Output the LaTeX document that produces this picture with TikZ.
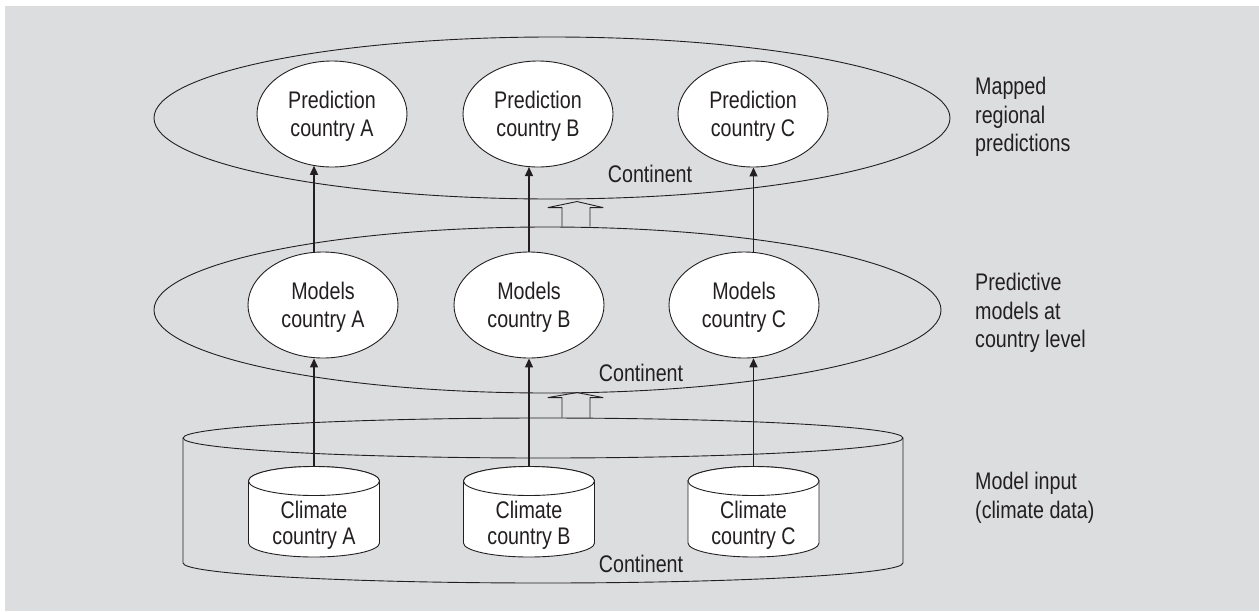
\documentclass[tikz,border=0pt]{standalone}
\usepackage{fontspec}
\setmainfont{Liberation Sans}[FakeStretch=0.82]
\usetikzlibrary{shapes.geometric,arrows.meta,calc}
\definecolor{bg}{RGB}{220,221,223}
\definecolor{ink}{RGB}{35,31,32}
\newcommand\twol[2]{\rule{0pt}{21.9pt}#1\\#2}
\begin{document}
\begin{tikzpicture}[x=1pt,y=1pt,line join=round,
  every node/.style={text=ink,font=\fontsize{24}{28}\selectfont},
  big/.style={draw=ink,line width=0.9pt,ellipse,inner sep=0pt},
  oval/.style={draw=ink,line width=0.9pt,ellipse,fill=white,minimum width=150pt,minimum height=106pt,inner sep=0pt,align=center},
  arr/.style={draw=ink,line width=1.3pt,-{Triangle[length=9pt,width=8pt]}},
  hollow/.style={draw=ink,line width=0.9pt},
  cyl/.style={draw=ink,line width=0.9pt,fill=white},
  side/.style={align=left,anchor=west,inner sep=0pt,font=\fontsize{24}{28.5}\selectfont},
  cont/.style={anchor=base,inner sep=0pt}]
\useasboundingbox (0,0) rectangle (1259,-611);
\fill[bg] (5,-6) rectangle (1259,-611);

% continent levels
\node[big,minimum width=796pt,minimum height=162pt] (topE) at (552,-118) {};
\node[big,minimum width=787pt,minimum height=166pt] (midE) at (547.5,-310) {};
\draw[ink,line width=0.9pt] (183,-438) -- (183,-563)
  arc[start angle=180,end angle=360,x radius=360pt,y radius=20pt] -- (903,-438);
\node[big,minimum width=720pt,minimum height=40pt] (baseE) at (543,-438) {};

% hollow arrows
\draw[hollow] ($(midE.north)+(14.5,0)$) -- ++(0,19) -- ++(-14,0) -- ++(29,6) -- ++(26,-6) -- ++(-13,0) -- ++(0,-19);
\draw[hollow] ($(baseE.north)+(19,0)$) -- ++(0,20) -- ++(-14,0) -- ++(29,5) -- ++(26,-5) -- ++(-13,0) -- ++(0,-20);

% climate cylinders
\newcommand\climcyl[3]{%
  \filldraw[cyl] (#1-65.5,-481) -- (#1-65.5,-543)
    arc[start angle=180,end angle=360,x radius=65.5pt,y radius=14pt]
    -- (#1+65.5,-481)
    arc[start angle=0,end angle=180,x radius=65.5pt,y radius=14.5pt] -- cycle;
  \draw[cyl] (#1,-481) ellipse[x radius=65.5pt,y radius=14.5pt];
  \node[align=center,font=\fontsize{24}{26}\selectfont] (#2) at (#1,-523) {\twol{Climate}{#3}};
  \coordinate (#2top) at (#1,-466);}
\climcyl{314}{climA}{country A}
\climcyl{529}{climB}{country B}
\climcyl{753.5}{climC}{country C}

% model ovals
\node[oval] (modA) at (323,-305) {\twol{Models}{country A}};
\node[oval] (modB) at (529,-305) {\twol{Models}{country B}};
\node[oval] (modC) at (744,-305) {\twol{Models}{country C}};

% prediction ovals
\node[oval] (predA) at (332,-114) {\twol{Prediction}{country A}};
\node[oval] (predB) at (538,-114) {\twol{Prediction}{country B}};
\node[oval] (predC) at (753,-114) {\twol{Prediction}{country C}};

% arrows
\draw[arr] (climAtop) -- (climAtop |- modA.south);
\draw[arr] (climBtop) -- (climBtop |- modB.south);
\draw[arr] (climCtop) -- ($(climCtop |- modC.south)+(0,0.2)$);
\draw[arr] ($(modA.north -| climAtop)+(0,-0.5)$) -- ($(predA.south -| climAtop)+(0,1.7)$);
\draw[arr] (modB.north -| climBtop) -- ($(predB.south -| climBtop)+(0,0.4)$);
\draw[arr] ($(modC.north -| climCtop)+(0,-0.3)$) -- (predC.south -| climCtop);

% continent labels
\node[cont] (contT) at (650,-182) {Continent};
\node[cont] (contM) at (641,-381) {Continent};
\node[cont] (contB) at (641,-572) {Continent};

% side labels
\node[side] (labT) at (975,-117) {Mapped\\regional\\predictions};
\node[side] (labM) at (975,-313) {Predictive\\models at\\country level};
\node[side] (labB) at (975,-498) {Model input\\(climate data)};
\end{tikzpicture}
\end{document}
